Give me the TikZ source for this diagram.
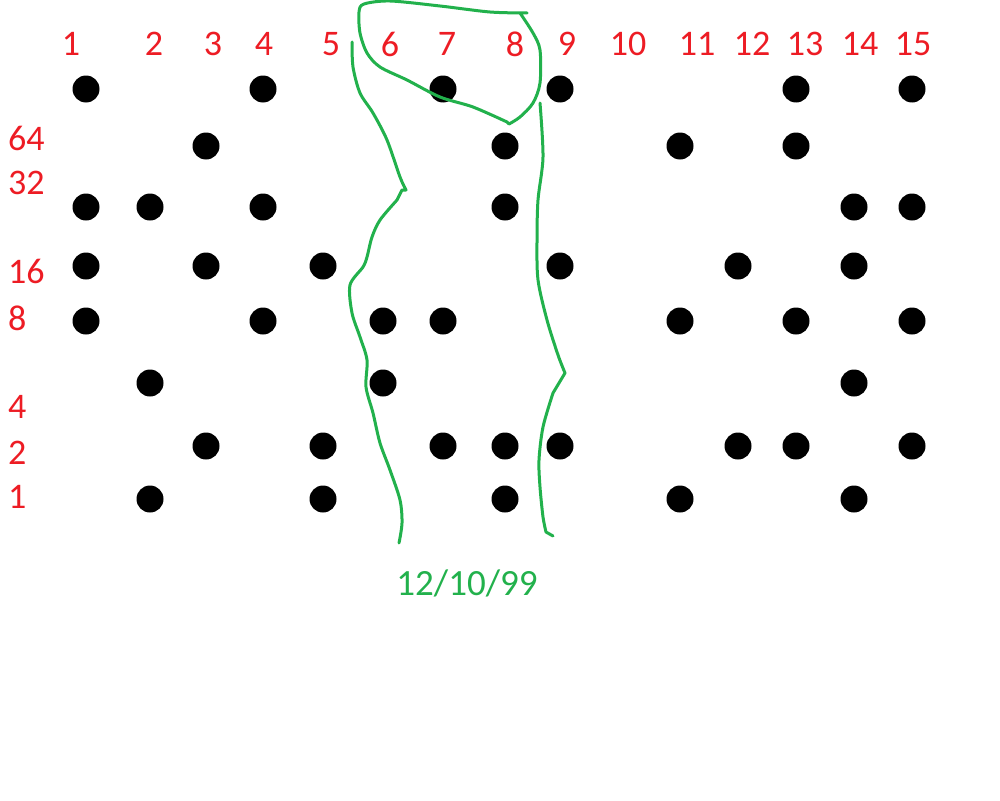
\documentclass[tikz,border=0pt]{standalone}
\usepackage{fontspec}
\setmainfont{Carlito}
\definecolor{pred}{RGB}{237,28,36}
\definecolor{pgreen}{RGB}{34,177,76}
\begin{document}
\begin{tikzpicture}[x=1pt,y=-1pt,
  lbl/.style={text=pred,font=\fontsize{36}{40}\selectfont,inner sep=0pt},
  rlbl/.style={lbl,anchor=west},
  dot/.style={circle,fill=black,minimum size=27pt,inner sep=0pt},
  gline/.style={pgreen,line width=3pt,line cap=round,line join=round}]
\useasboundingbox[fill=white] (0,0) rectangle (1000,800);
% column labels
\foreach \n/\x in {1/71,2/154,3/213,4/264,5/331,6/390,7/447,8/515,9/567,10/628,11/697,12/752,13/805,14/860,15/913}
  \node[lbl] (c\n) at (\x,44) {\n};
% row labels
\foreach \n/\y in {64/138,32/183,16/271,8/318,4/407,2/453,1/497}
  \node[rlbl] (r\n) at (8,\y) {\n};
% dots
\foreach \x in {86,263,443,560,796,912} \node[dot] (a\x) at (\x,89) {};
\foreach \x in {206,505,680,796} \node[dot] (b\x) at (\x,146) {};
\foreach \x in {86,150,263,505,854,912} \node[dot] (d\x) at (\x,207) {};
\foreach \x in {86,206,323,560,738,854} \node[dot] (e\x) at (\x,266) {};
\foreach \x in {86,263,383,443,680,796,912} \node[dot] (f\x) at (\x,321) {};
\foreach \x in {150,383,854} \node[dot] (g\x) at (\x,383) {};
\foreach \x in {206,323,443,505,560,738,796,912} \node[dot] (h\x) at (\x,446) {};
\foreach \x in {150,323,505,680,854} \node[dot] (i\x) at (\x,499) {};
% green freehand lines
\draw[gline] plot[smooth,tension=0.5] coordinates {(352,42) (353,67) (360,93) (373,113) (387,140) (400,177) (406,190)}
  -- (402,190) -- plot[smooth,tension=0.5] coordinates {(397,200) (380,220) (372,237) (367,257) (363,267) (350,285) (352,313) (360,337) (367,360) (366,387) (373,413) (380,443) (390,470) (400,500) (402,523) (399,543)};
\draw[gline] plot[smooth,tension=0.5] coordinates {(540,103) (543,157) (538,200) (537,240) (538,280) (547,320) (558,355) (565,373)}
  -- plot[smooth,tension=0.5] coordinates {(553,393) (543,427) (539,460) (540,487) (543,517) (546,532)} -- (553,536);
\draw[gline] plot[smooth,tension=0.5] coordinates {(520,13) (533,33) (540,50) (540,83) (533,103) (520,117) (509,124)}
  -- plot[smooth,tension=0.5] coordinates {(507,122) (473,107) (440,97) (407,80) (380,67) (367,53) (360,33) (359,12) (364,4) (390,1) (440,6) (490,12) (527,13)};
\node[text=pgreen,font=\fontsize{37}{40}\selectfont,inner sep=0pt] (date) at (467,583) {12/10/99};
\end{tikzpicture}
\end{document}
